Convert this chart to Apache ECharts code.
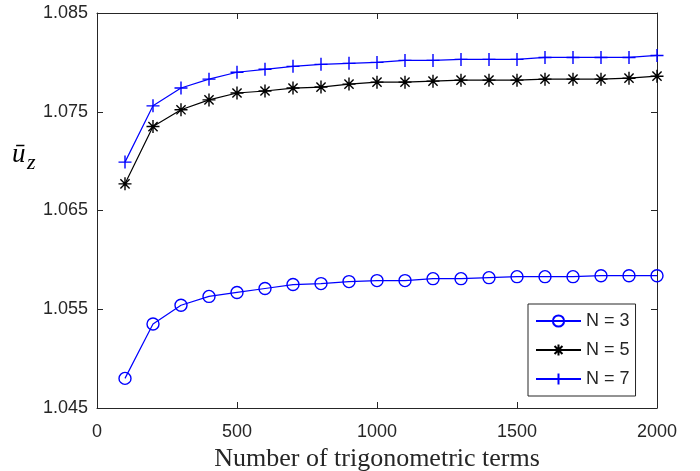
<!DOCTYPE html>
<html>
<head>
<meta charset="utf-8">
<script src="https://cdn.jsdelivr.net/npm/echarts@6/dist/echarts.min.js"></script>
<style>html,body{margin:0;padding:0;background:#fff}#c{width:700px;height:471px}</style>
</head>
<body>
<div id="c"></div>
<script>
const terms = [100,200,300,400,500,600,700,800,900,1000,1100,1200,1300,1400,1500,1600,1700,1800,1900,2000];
const n3 = [1.0480,1.0535,1.0554,1.0563,1.0567,1.0571,1.0575,1.0576,1.0578,1.0579,1.0579,1.0581,1.0581,1.0582,1.0583,1.0583,1.0583,1.0584,1.0584,1.0584];
const n5 = [1.0677,1.0735,1.0752,1.0762,1.0769,1.0771,1.0774,1.0775,1.0778,1.0780,1.0780,1.0781,1.0782,1.0782,1.0782,1.0783,1.0783,1.0783,1.0784,1.0786];
const n7 = [1.0699,1.0756,1.0774,1.0783,1.0790,1.0793,1.0796,1.0798,1.0799,1.0800,1.0802,1.0802,1.0803,1.0803,1.0803,1.0805,1.0805,1.0805,1.0805,1.0807];
const seriesNames = ['N = 3','N = 5','N = 7'];
const xTicks = [0,500,1000,1500,2000];
const yTicks = [1.045,1.055,1.065,1.075,1.085];

const axisColor = '#262626';
const labelFont = {fontFamily:'Liberation Sans', fontSize:18, color:axisColor};
const star = 'path://M0,-1L0,1M-1,0L1,0M-0.7071,-0.7071L0.7071,0.7071M-0.7071,0.7071L0.7071,-0.7071';
const plus = 'path://M0,-1L0,1M-1,0L1,0';

function pairs(ys){ return terms.map((x,i)=>[x,ys[i]]); }

const chart = echarts.init(document.getElementById('c'));
const baseX = {type:'value', min:0, max:2000, interval:500,
  axisLine:{show:true, onZero:false, lineStyle:{color:axisColor, width:1}},
  axisTick:{show:true, inside:true, length:6, lineStyle:{color:axisColor}, customValues:xTicks},
  splitLine:{show:false}};
const baseY = {type:'value', min:1.045, max:1.085,
  axisLine:{show:true, onZero:false, lineStyle:{color:axisColor, width:1}},
  axisTick:{show:true, inside:true, length:6, lineStyle:{color:axisColor}, customValues:yTicks},
  splitLine:{show:false}};

chart.setOption({
  animation:false,
  grid:{left:97, right:43, top:13, bottom:63, containLabel:false, outerBoundsMode:'none'},
  xAxis:[
    Object.assign({}, baseX, {position:'bottom',
      axisLabel:Object.assign({margin:15, customValues:xTicks, formatter:v=>String(v)}, labelFont),
      name:'Number of trigonometric terms', nameLocation:'middle', nameGap:32,
      nameTextStyle:{fontFamily:'Liberation Serif', fontSize:26, color:axisColor}}),
    Object.assign({}, baseX, {position:'top', axisLabel:{show:false}})
  ],
  yAxis:[
    Object.assign({}, baseY, {position:'left',
      axisLabel:Object.assign({margin:9, customValues:yTicks, formatter:v=>v.toFixed(3)}, labelFont)}),
    Object.assign({}, baseY, {position:'right', axisLabel:{show:false}})
  ],
  legend:{
    orient:'vertical', left:528, top:304, width:110,
    padding:[8,6,8,7], itemGap:11, itemWidth:45, itemHeight:14,
    borderColor:axisColor, borderWidth:1, backgroundColor:'#fff',
    textStyle:{fontFamily:'Liberation Sans', fontSize:18, color:axisColor, padding:[0,0,0,0]},
    data:seriesNames
  },
  graphic:[
    {type:'text', left:12, top:141, style:{text:'ū', font:'italic 27px "Liberation Serif"', fill:'#000'}},
    {type:'text', left:27, top:152, style:{text:'z', font:'italic 22px "Liberation Serif"', fill:'#000'}}
  ],
  series:[
    {name:seriesNames[0], type:'line', data:pairs(n3), symbol:'circle', symbolSize:12,
      lineStyle:{color:'#0000ff', width:1.2},
      itemStyle:{color:'rgba(0,0,0,0)', borderColor:'#0000ff', borderWidth:1.4}},
    {name:seriesNames[1], type:'line', data:pairs(n5), symbol:star, symbolSize:13,
      lineStyle:{color:'#000', width:1.2},
      itemStyle:{color:'#000', borderColor:'#000', borderWidth:1.4}},
    {name:seriesNames[2], type:'line', data:pairs(n7), symbol:plus, symbolSize:13,
      lineStyle:{color:'#0000ff', width:1.2},
      itemStyle:{color:'#0000ff', borderColor:'#0000ff', borderWidth:1.4}}
  ]
});
</script>
</body>
</html>
